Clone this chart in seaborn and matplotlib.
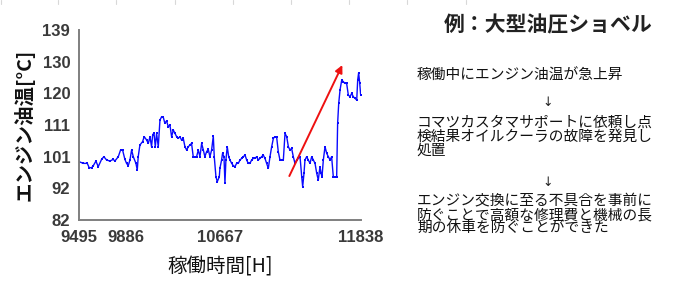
import matplotlib
matplotlib.use("Agg")
import matplotlib.pyplot as plt
import seaborn as sns
import pandas as pd

hours = [9495, 9528, 9562, 9578, 9598, 9612, 9634, 9653, 9681, 9700,
         9723, 9750, 9778, 9792, 9820, 9839, 9856, 9875, 9889, 9903,
         9917, 9931, 9945, 9967, 9978, 9986, 10000, 10022, 10036, 10056,
         10070, 10084, 10097, 10106, 10117, 10128, 10139, 10153, 10167, 10181,
         10195, 10208, 10222, 10236, 10250, 10264, 10278, 10292, 10306, 10319,
         10333, 10347, 10361, 10375, 10389, 10403, 10417, 10430, 10444, 10458,
         10472, 10486, 10500, 10514, 10528, 10541, 10555, 10569, 10583, 10597,
         10611, 10619, 10633, 10644, 10661, 10666, 10680, 10688, 10700, 10708,
         10716, 10727, 10739, 10750, 10764, 10778, 10791, 10805, 10819, 10833,
         10847, 10861, 10875, 10889, 10902, 10916, 10930, 10944, 10958, 10972,
         10986, 11000, 11013, 11027, 11041, 11055, 11069, 11083, 11097, 11111,
         11124, 11138, 11152, 11166, 11180, 11194, 11208, 11222, 11236, 11249,
         11263, 11277, 11291, 11305, 11319, 11333, 11347, 11355, 11366, 11374,
         11388, 11402, 11416, 11430, 11444, 11458, 11472, 11485, 11499, 11508,
         11516, 11527, 11541, 11555, 11569, 11583, 11596, 11610, 11624, 11638,
         11646, 11655, 11666, 11680, 11694, 11707, 11721, 11735, 11749, 11763,
         11777, 11791, 11805, 11813, 11821, 11830, 11838]

temps = [99.5, 99.0, 99.0, 97.7, 97.7, 98.3, 99.7, 98.0, 100.2, 101.0,
         100.0, 99.7, 100.2, 99.7, 101.0, 103.0, 103.0, 100.2, 99.0, 98.3,
         100.0, 103.0, 101.0, 99.0, 97.0, 101.0, 104.5, 105.5, 107.0, 106.0,
         105.0, 107.0, 104.0, 107.5, 108.2, 104.0, 108.0, 104.0, 112.0, 113.0,
         112.8, 111.0, 111.8, 110.0, 110.5, 107.0, 109.0, 108.0, 107.0, 106.5,
         107.0, 106.0, 106.5, 104.0, 103.0, 104.0, 104.5, 105.0, 101.0, 101.0,
         101.0, 103.0, 101.0, 105.0, 103.0, 101.0, 102.5, 103.2, 101.0, 103.0,
         107.2, 101.0, 95.0, 93.5, 95.0, 97.5, 100.0, 102.0, 101.0, 93.0,
         100.0, 104.0, 101.0, 100.0, 99.0, 98.3, 98.0, 99.0, 99.0, 100.0,
         100.5, 101.0, 101.5, 100.0, 99.0, 99.0, 100.0, 100.5, 100.5, 101.0,
         100.0, 100.5, 101.0, 101.5, 100.5, 99.0, 97.5, 101.0, 104.0, 106.5,
         107.0, 107.0, 102.5, 100.0, 100.0, 100.0, 108.0, 107.0, 104.0, 103.0,
         103.5, 101.0, 99.0, 100.0, 100.5, 101.0, 95.0, 92.0, 96.0, 100.0,
         101.0, 100.0, 99.0, 101.0, 100.0, 99.0, 96.0, 94.0, 98.0, 96.0,
         95.0, 100.0, 104.0, 102.0, 101.0, 100.0, 101.0, 95.0, 95.0, 95.0,
         111.0, 117.0, 121.0, 124.0, 123.5, 123.0, 123.0, 119.5, 119.0, 120.0,
         119.0, 118.5, 118.0, 124.0, 126.2, 123.0, 119.5]

x_ticks = [9495, 9885.5, 10276, 10666.5, 11057, 11447.5, 11838]
x_tick_labels = ["9495", "9886", "", "10667", "", "", "11838"]
y_ticks = [82, 91.5, 101, 110.5, 120, 129.5, 139]
y_tick_labels = ["82", "92", "101", "111", "120", "130", "139"]

arrow_start = (11244, 95.2)
arrow_end = (11685, 128.5)

title_text = "例：大型油圧ショベル"
step1 = ["稼働中にエンジン油温が急上昇"]
step2 = ["コマツカスタマサポートに依頼し点", "検結果オイルクーラの故障を発見し", "処置"]
step3 = ["エンジン交換に至る不具合を事前に", "防ぐことで高額な修理費と機械の長", "期の休車を防ぐことができた"]

sns.set_style("white")
plt.rcParams["font.family"] = ["Noto Sans CJK JP", "DejaVu Sans"]

fig = plt.figure(figsize=(6.89, 2.81), dpi=100)
ax = fig.add_axes([0.115, 0.217, 0.4085, 0.676])

df = pd.DataFrame({"hours": hours, "temp": temps})
sns.lineplot(data=df, x="hours", y="temp", ax=ax, color="#0a0aff",
             linewidth=1.0, marker="s", markersize=1.8, markeredgewidth=0,
             estimator=None, sort=False)

ax.set_xlim(9495, 11838)
ax.set_ylim(82, 139)
ax.set_xticks(x_ticks)
ax.set_xticklabels(x_tick_labels)
ax.set_yticks(y_ticks)
ax.set_yticklabels(y_tick_labels)
for lab in ax.get_xticklabels() + ax.get_yticklabels():
    lab.set_family(["Liberation Sans", "DejaVu Sans"])
    lab.set_fontweight("bold")
    lab.set_fontsize(12)
    lab.set_color("#3a3a3a")
ax.tick_params(axis="both", direction="inout", length=7, width=1.3,
               color="#7f7f7f")
ax.tick_params(axis="x", pad=4)
ax.tick_params(axis="y", pad=3)
for s in ["top", "right"]:
    ax.spines[s].set_visible(False)
for s in ["left", "bottom"]:
    ax.spines[s].set_color("#7f7f7f")
    ax.spines[s].set_linewidth(1.4)

ax.set_xlabel("稼働時間[H]", fontsize=14, color="#111111", labelpad=8)
ax.set_ylabel("エンジン油温[°C]", fontsize=14, fontweight="bold",
              color="#111111", labelpad=6)

ax.annotate("", xy=arrow_end, xytext=arrow_start,
            arrowprops=dict(arrowstyle="-|>", color="#ee1111", lw=1.4,
                            mutation_scale=11, shrinkA=0, shrinkB=0))

# faint top borders
for px in [1, 58, 116, 175, 233, 291, 349, 407, 466]:
    fig.add_artist(plt.Line2D([px / 689, px / 689], [1, 1 - 4 / 281],
                              color="#d8d8d8", lw=0.8))

def fy(py):
    return 1 - py / 281

fig.text(548 / 689, fy(25), title_text, fontsize=15, fontweight="bold",
         ha="center", va="center", color="#222222")
lx = 417 / 689
fs = 10.6
fig.text(lx, fy(76), step1[0], fontsize=fs, ha="left", va="center",
         color="#111111")
fig.text(548 / 689, fy(103), "↓", fontsize=9, ha="center", va="center",
         color="#222222", family=["DejaVu Sans"])
for i, line in enumerate(step2):
    fig.text(lx, fy(123 + 14 * i), line, fontsize=fs, ha="left",
             va="center", color="#111111")
fig.text(548 / 689, fy(182), "↓", fontsize=9, ha="center", va="center",
         color="#222222", family=["DejaVu Sans"])
for i, line in enumerate(step3):
    fig.text(lx, fy(201 + 14 * i), line, fontsize=fs, ha="left",
             va="center", color="#111111")

fig.savefig("out.png", dpi=100, facecolor="white")
